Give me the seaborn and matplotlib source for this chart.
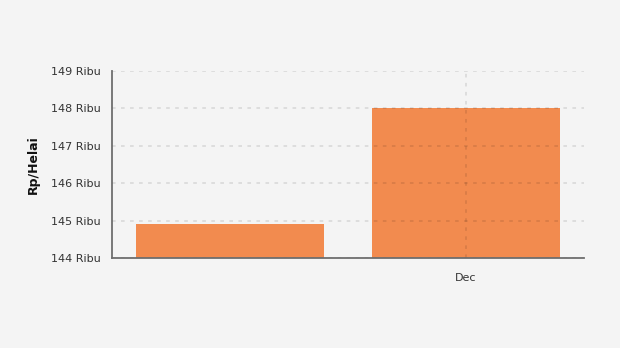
import matplotlib
matplotlib.use("Agg")
import matplotlib.pyplot as plt
import seaborn as sns
import pandas as pd
from matplotlib.ticker import FuncFormatter

categories = ["", "Dec"]
values = [144910, 148010]
y_ticks = [144000, 145000, 146000, 147000, 148000, 149000]

df = pd.DataFrame({"month": categories, "price": values})

sns.set_theme(style="white")
plt.rcParams["font.family"] = ["DejaVu Sans"]

bg = "#f4f4f4"
fig = plt.figure(figsize=(6.2, 3.48), dpi=100, facecolor=bg)
ax = fig.add_axes([112/620, 1-258/348, (584-112)/620, (258-71)/348])
ax.set_facecolor(bg)

sns.barplot(data=df, x="month", y="price", color="#f28b4f", saturation=1,
            width=0.8, ax=ax)
for p in ax.patches:
    p.set_edgecolor("none")
    p.set_zorder(1)

ax.set_ylim(144000, 149000)
ax.set_xlim(-0.5, 1.5)
ax.set_yticks(y_ticks)
ax.yaxis.set_major_formatter(FuncFormatter(lambda v, _: f"{int(round(v/1000))} Ribu"))
ax.set_xticks([1])
ax.set_xticklabels([categories[1]])

ax.set_axisbelow(False)
ax.grid(True, axis="both", color="black", alpha=0.1, linestyle=(0, (2, 3)), linewidth=1.3)

for s in ["top", "right"]:
    ax.spines[s].set_visible(False)
for s in ["left", "bottom"]:
    ax.spines[s].set_color("#6e6e6e")
    ax.spines[s].set_linewidth(1.3)
    ax.spines[s].set_zorder(4)

ax.tick_params(axis="both", colors="#6e6e6e", width=1.3, labelsize=8,
               labelcolor="#333333", direction="out")
ax.tick_params(axis="y", length=5, pad=3)
ax.tick_params(axis="x", length=4, pad=7)
ax.set_xlabel("")
ax.set_ylabel("Rp/Helai", fontsize=9, fontweight="bold", color="#111111", labelpad=8)

fig.savefig("out.png", dpi=100, facecolor=bg)
